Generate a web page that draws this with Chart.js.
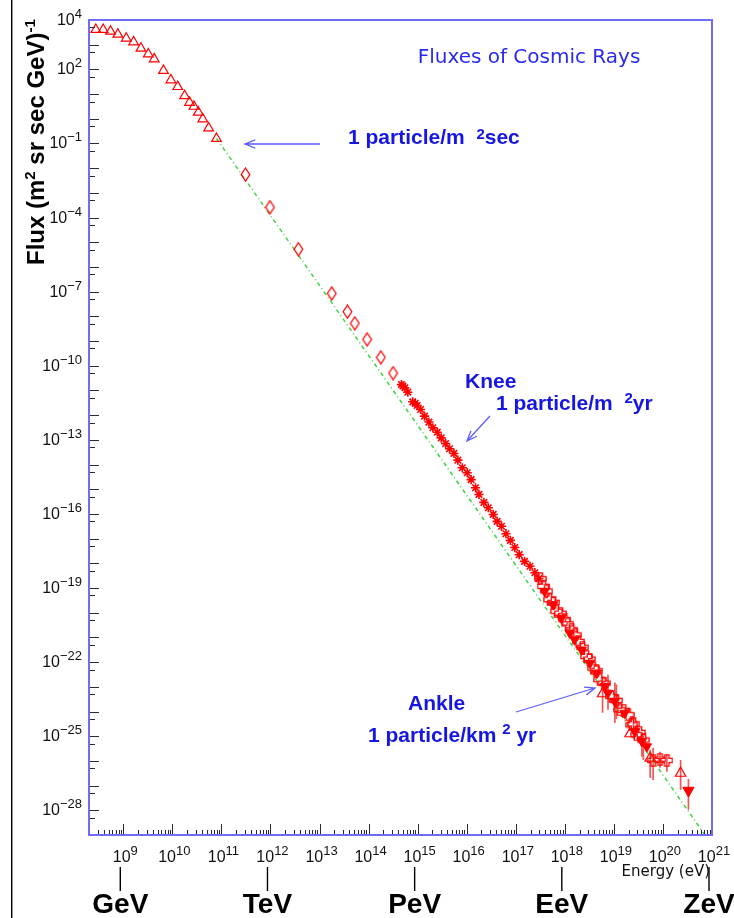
<!DOCTYPE html>
<html>
<head>
<meta charset="utf-8">
<script src="https://cdn.jsdelivr.net/npm/chart.js@4.4.1/dist/chart.umd.min.js"></script>
<style>
  html, body { margin: 0; padding: 0; background: #fff; }
</style>
</head>
<body>
<canvas id="fluxChart" width="734" height="918"></canvas>
<script>
// all values are log10(E / eV) and log10(flux)
const triLogE = [8.44, 8.59, 8.74, 8.89, 9.06, 9.21, 9.36, 9.51, 9.63, 9.82, 9.97, 10.11, 10.25, 10.35, 10.44, 10.53, 10.62, 10.74, 10.90];
const triLogF = [3.61, 3.61, 3.54, 3.42, 3.26, 3.11, 2.85, 2.62, 2.42, 1.95, 1.57, 1.30, 0.93, 0.66, 0.50, 0.26, -0.01, -0.38, -0.80];

const diaLogE = [11.49, 11.99, 12.57, 13.25, 13.57, 13.72, 13.97, 14.25, 14.50];
const diaLogF = [-2.26, -3.58, -5.28, -7.07, -7.81, -8.28, -8.93, -9.66, -10.30];

const starLogE = [14.67, 14.70, 14.74, 14.80, 14.90, 14.95, 14.99, 15.06, 15.14, 15.23, 15.31, 15.40, 15.48, 15.57, 15.65, 15.74, 15.82,
  15.91, 16.01, 16.09, 16.18, 16.25, 16.35, 16.44, 16.54, 16.62, 16.71, 16.80, 16.89, 16.98, 17.07, 17.18, 17.29, 17.39, 17.47];
const starLogF = [-10.76, -10.82, -10.89, -11.07, -11.46, -11.52, -11.61, -11.77, -12.04, -12.28, -12.51, -12.69, -12.92, -13.15, -13.36, -13.55, -13.82,
  -14.13, -14.33, -14.61, -14.94, -15.21, -15.53, -15.75, -16.02, -16.30, -16.50, -16.80, -17.07, -17.36, -17.65, -17.92, -18.12, -18.38, -18.62];

const crossLogE = [17.56, 17.69, 17.83, 18.00, 18.14, 18.27, 18.44, 18.58, 18.71, 18.95, 19.12, 19.29, 19.36, 19.46, 19.60, 19.80, 19.94, 20.08];
const crossLogF = [-18.93, -19.47, -19.94, -20.28, -20.69, -21.16, -21.77, -22.24, -22.71, -23.39, -23.93, -24.13, -24.54, -24.94, -25.15, -25.98, -25.93, -25.98];
const crossErrHi = [null, null, null, null, null, null, null, null, null, null, null, null, null, null, -24.98, -25.47, -25.63, -25.75];
const crossErrLo = [null, null, null, null, null, null, null, null, null, null, null, null, null, null, -25.96, -26.77, -26.28, -26.44];

const cross2LogE = [17.50, 17.63, 17.77, 17.91, 18.06, 18.21, 18.36, 18.50, 18.64, 18.80, 19.05, 19.20, 19.40, 19.52];
const cross2LogF = [-18.62, -19.12, -19.58, -20.02, -20.45, -20.90, -21.40, -21.88, -22.35, -22.85, -23.55, -23.95, -24.50, -24.85];
const cross2ErrHi = [null, null, null, null, null, null, null, null, null, null, -22.90, null, -24.20, null];
const cross2ErrLo = [null, null, null, null, null, null, null, null, null, null, -24.30, null, -25.10, null];

const downLogE = [17.59, 17.76, 17.93, 18.10, 18.20, 18.34, 18.51, 18.65, 18.82, 18.88, 19.02, 19.22, 19.43, 19.57, 19.67];
const downLogF = [-19.13, -19.67, -20.21, -20.82, -21.09, -21.50, -22.04, -22.44, -22.98, -23.25, -23.59, -24.06, -24.81, -25.21, -25.42];
const downErrHi = [null, null, null, null, null, null, null, null, null, -22.51, -22.83, null, null, -25.02, null];
const downErrLo = [null, null, null, null, null, null, null, null, null, -23.93, -24.46, null, null, -25.83, null];

const openTriLogE = [18.77, 19.33, 19.74, 20.36];
const openTriLogF = [-23.28, -24.90, -25.89, -26.50];
const openTriErrHi = [-22.58, null, -25.55, -25.96];
const openTriErrLo = [-24.05, null, -26.69, -27.17];

const lastLogE = [20.52];
const lastLogF = [-27.20];
const lastErrHi = [-26.73];
const lastErrLo = [-27.98];

// E^-2.8 guide line
const guideLogE = [10.90, 20.84];
const guideLogF = [-0.80, -28.95];

const xTickExps = [9, 10, 11, 12, 13, 14, 15, 16, 17, 18, 19, 20, 21];
const yTickExps = [4, 2, -1, -4, -7, -10, -13, -16, -19, -22, -25, -28];
const unitNames = ['GeV', 'TeV', 'PeV', 'EeV', 'ZeV'];
const unitEnergy = [1e9, 1e12, 1e15, 1e18, 1e21];

const C = {
  frame: 'rgb(112,108,246)',
  red: '#ff0000',
  err: 'rgba(236,70,70,0.9)',
  green: '#3fd43f',
  text: '#1616e2',
  arrow: '#5e5eff',
  tick: '#2a2a2a'
};

const pts = (le, lf) => le.map((e, i) => ({ x: Math.pow(10, e), y: Math.pow(10, lf[i]) }));

function markerCanvas(w, h, draw) {
  const c = document.createElement('canvas');
  c.width = w; c.height = h;
  const g = c.getContext('2d');
  g.strokeStyle = C.red; g.lineWidth = 1.3;
  draw(g);
  return c;
}

// tall open diamond (ROOT marker 27)
const diamondMark = markerCanvas(11, 15, g => {
  g.beginPath();
  g.moveTo(5.5, 1); g.lineTo(9.8, 7.5); g.lineTo(5.5, 14); g.lineTo(1.2, 7.5); g.closePath();
  g.stroke();
});

// open cross (ROOT marker 28)
const crossMark = markerCanvas(13, 13, g => {
  const c = 6.5, a = 2.2, r = 5.6;
  g.beginPath();
  g.moveTo(c - a, c - r); g.lineTo(c + a, c - r); g.lineTo(c + a, c - a); g.lineTo(c + r, c - a);
  g.lineTo(c + r, c + a); g.lineTo(c + a, c + a); g.lineTo(c + a, c + r); g.lineTo(c - a, c + r);
  g.lineTo(c - a, c + a); g.lineTo(c - r, c + a); g.lineTo(c - r, c - a); g.lineTo(c - a, c - a);
  g.closePath();
  g.stroke();
});

function drawRich(ctx, segs, x, y, base, sup, rise, align) {
  let w = 0;
  segs.forEach(([t, s]) => { ctx.font = s ? sup : base; w += ctx.measureText(t).width; });
  let cx = align === 'right' ? x - w : align === 'center' ? x - w / 2 : x;
  ctx.textAlign = 'left';
  ctx.textBaseline = 'alphabetic';
  segs.forEach(([t, s]) => {
    ctx.font = s ? sup : base;
    ctx.fillText(t, cx, s ? y - rise : y);
    cx += ctx.measureText(t).width;
  });
}

function arrow(ctx, x1, y1, x2, y2) {
  const ang = Math.atan2(y2 - y1, x2 - x1), L = 11, s = 0.38;
  ctx.beginPath();
  ctx.moveTo(x1, y1); ctx.lineTo(x2, y2);
  ctx.moveTo(x2 - L * Math.cos(ang - s), y2 - L * Math.sin(ang - s));
  ctx.lineTo(x2, y2);
  ctx.lineTo(x2 - L * Math.cos(ang + s), y2 - L * Math.sin(ang + s));
  ctx.stroke();
}

const errorBars = {
  id: 'errorBars',
  beforeDatasetsDraw(chart) {
    const { ctx, chartArea: a, scales: { x, y } } = chart;
    ctx.save();
    ctx.beginPath();
    ctx.rect(a.left, a.top, a.right - a.left, a.bottom - a.top);
    ctx.clip();
    ctx.strokeStyle = C.err;
    ctx.lineWidth = 1.7;
    chart.data.datasets.forEach(ds => {
      if (!ds.errHi) return;
      ds.data.forEach((p, i) => {
        if (ds.errHi[i] == null) return;
        const px = x.getPixelForValue(p.x);
        ctx.beginPath();
        ctx.moveTo(px, y.getPixelForValue(Math.pow(10, ds.errHi[i])));
        ctx.lineTo(px, y.getPixelForValue(Math.pow(10, ds.errLo[i])));
        ctx.stroke();
      });
    });
    ctx.restore();
  }
};

const decorations = {
  id: 'decorations',
  afterDraw(chart) {
    const { ctx, chartArea: a, scales: { x, y } } = chart;
    ctx.save();

    // page rule on the far left
    ctx.fillStyle = '#000';
    ctx.fillRect(11, 0, 1.4, chart.height);

    // ticks, drawn inside the frame
    ctx.strokeStyle = C.tick;
    ctx.lineWidth = 1;
    for (let n = 8; n <= 21; n++) {
      for (let m = 1; m <= 9; m++) {
        const v = m * Math.pow(10, n);
        if (v < x.min * 0.999 || v > x.max * 1.001) continue;
        const px = Math.round(x.getPixelForValue(v)) + 0.5;
        ctx.beginPath();
        ctx.moveTo(px, a.bottom);
        ctx.lineTo(px, a.bottom - (m === 1 ? 11 : 5));
        ctx.stroke();
      }
    }
    for (let n = -29; n <= 4; n++) {
      [[1, 10], [0.5, 6]].forEach(([m, len]) => {
        const v = m * Math.pow(10, n);
        if (v < y.min * 0.999 || v > y.max * 1.001) return;
        const py = Math.round(y.getPixelForValue(v)) + 0.5;
        ctx.beginPath();
        ctx.moveTo(a.left, py);
        ctx.lineTo(a.left + len, py);
        ctx.stroke();
      });
    }

    // frame
    ctx.strokeStyle = C.frame;
    ctx.lineWidth = 2;
    ctx.strokeRect(a.left, a.top, a.right - a.left, a.bottom - a.top);

    // tick labels
    ctx.fillStyle = '#111';
    const base = '16px "Liberation Sans", Arial, sans-serif';
    const sup = '13px "Liberation Sans", Arial, sans-serif';
    xTickExps.forEach(e => {
      const px = x.getPixelForValue(Math.pow(10, e));
      drawRich(ctx, [['10', 0], [String(e), 1]], px + 2, 862, base, sup, 7, 'center');
    });
    yTickExps.forEach(e => {
      const py = y.getPixelForValue(Math.pow(10, e));
      const s = e < 0 ? '\u2212' + Math.abs(e) : String(e);
      drawRich(ctx, [['10', 0], [s, 1]], 82, py + 5, base, sup, 7, 'right');
    });

    // axis titles
    ctx.save();
    ctx.translate(44, 265);
    ctx.rotate(-Math.PI / 2);
    ctx.fillStyle = '#000';
    drawRich(ctx, [['Flux (m', 0], ['2', 1], [' sr sec GeV)', 0], ['-1', 1]], 0, 0,
      'bold 24px "Liberation Sans", Arial, sans-serif', 'bold 15px "Liberation Sans", Arial, sans-serif', 9, 'left');
    ctx.restore();

    ctx.fillStyle = '#111';
    ctx.font = '15px "DejaVu Sans", sans-serif';
    ctx.textAlign = 'right';
    ctx.fillText('Energy (eV)', 710, 876);

    // energy unit markers
    ctx.strokeStyle = '#000';
    ctx.lineWidth = 1.4;
    ctx.fillStyle = '#000';
    ctx.font = 'bold 28px "Liberation Sans", Arial, sans-serif';
    ctx.textAlign = 'center';
    unitNames.forEach((name, i) => {
      const px = x.getPixelForValue(unitEnergy[i]) - 3;
      ctx.beginPath();
      ctx.moveTo(px, 867);
      ctx.lineTo(px, 891);
      ctx.stroke();
      ctx.fillText(name, px, 913);
    });

    // title
    ctx.fillStyle = '#2a2aee';
    ctx.font = '20px "DejaVu Sans", sans-serif';
    ctx.textAlign = 'center';
    ctx.fillText('Fluxes of Cosmic Rays', 529, 63);

    // annotations
    ctx.fillStyle = C.text;
    const bf = 'bold 21px "Liberation Sans", Arial, sans-serif';
    const bs = 'bold 15px "Liberation Sans", Arial, sans-serif';
    drawRich(ctx, [['1 particle/m  ', 0], ['2', 1], ['sec', 0]], 348, 144, bf, bs, 5, 'left');
    drawRich(ctx, [['Knee', 0]], 465, 388, bf, bs, 5, 'left');
    drawRich(ctx, [['1 particle/m  ', 0], ['2', 1], ['yr', 0]], 496, 410, bf, bs, 7, 'left');
    drawRich(ctx, [['Ankle', 0]], 408, 710, bf, bs, 5, 'left');
    drawRich(ctx, [['1 particle/km ', 0], ['2', 1], [' yr', 0]], 368, 742, bf, bs, 8, 'left');

    ctx.strokeStyle = C.arrow;
    ctx.lineWidth = 1.3;
    arrow(ctx, 320, 144, 245, 144);
    arrow(ctx, 490, 416, 467, 441);
    arrow(ctx, 516, 712, 595, 688);

    ctx.restore();
  }
};

const ctx = document.getElementById('fluxChart').getContext('2d');

new Chart(ctx, {
  type: 'scatter',
  data: {
    datasets: [
      {
        label: 'guide',
        data: pts(guideLogE, guideLogF),
        showLine: true,
        borderColor: C.green,
        borderWidth: 1.5,
        borderDash: [4, 3, 1, 3],
        pointRadius: 0,
        order: 10
      },
      {
        label: 'low energy',
        data: pts(triLogE, triLogF),
        pointStyle: 'triangle',
        pointRadius: 5.6,
        borderColor: C.red,
        borderWidth: 1.2,
        backgroundColor: 'rgba(0,0,0,0)'
      },
      {
        label: 'direct',
        data: pts(diaLogE, diaLogF),
        pointStyle: diamondMark
      },
      {
        label: 'knee',
        data: pts(starLogE, starLogF),
        pointStyle: 'star',
        pointRadius: 4.6,
        borderColor: C.red,
        borderWidth: 1.6
      },
      {
        label: 'crosses',
        data: pts(crossLogE, crossLogF),
        pointStyle: crossMark,
        errHi: crossErrHi,
        errLo: crossErrLo
      },
      {
        label: 'crosses 2',
        data: pts(cross2LogE, cross2LogF),
        pointStyle: crossMark,
        errHi: cross2ErrHi,
        errLo: cross2ErrLo
      },
      {
        label: 'down',
        data: pts(downLogE, downLogF),
        pointStyle: 'triangle',
        rotation: 180,
        pointRadius: 5.6,
        borderColor: C.red,
        borderWidth: 1,
        backgroundColor: C.red,
        errHi: downErrHi,
        errLo: downErrLo
      },
      {
        label: 'open triangles',
        data: pts(openTriLogE, openTriLogF),
        pointStyle: 'triangle',
        pointRadius: 6,
        borderColor: C.red,
        borderWidth: 1.2,
        backgroundColor: 'rgba(0,0,0,0)',
        errHi: openTriErrHi,
        errLo: openTriErrLo
      },
      {
        label: 'last',
        data: pts(lastLogE, lastLogF),
        pointStyle: 'triangle',
        rotation: 180,
        pointRadius: 6.5,
        borderColor: C.red,
        borderWidth: 1,
        backgroundColor: C.red,
        errHi: lastErrHi,
        errLo: lastErrLo
      }
    ]
  },
  options: {
    responsive: false,
    animation: false,
    devicePixelRatio: 1,
    layout: { padding: { top: 20, left: 89, right: 22, bottom: 83 } },
    plugins: { legend: { display: false }, tooltip: { enabled: false } },
    scales: {
      x: { type: 'logarithmic', min: 2e8, max: 1e21, bounds: 'data', display: false },
      y: { type: 'logarithmic', min: 1e-29, max: 1e4, bounds: 'data', display: false }
    }
  },
  plugins: [errorBars, decorations]
});
</script>
</body>
</html>
